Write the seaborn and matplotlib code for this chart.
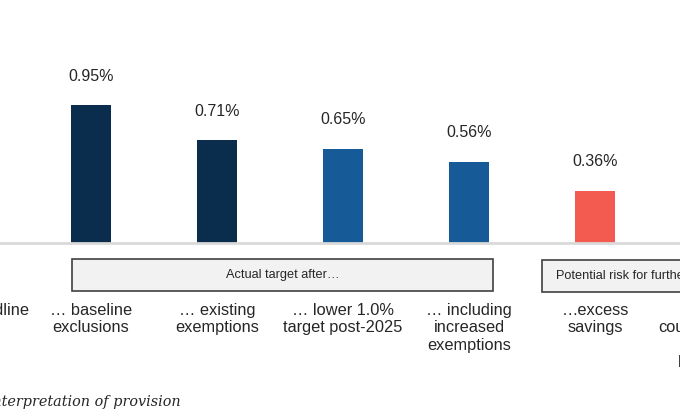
import matplotlib
matplotlib.use('Agg')
import matplotlib.pyplot as plt
import matplotlib.patches as mpatches
from matplotlib.transforms import blended_transform_factory
import seaborn as sns
import pandas as pd

# Categories (outer two are cut off by the crop of the original)
categories = ['Notional headline\ntarget',
              '… baseline\nexclusions',
              '… existing\nexemptions',
              '… lower 1.0%\ntarget post-2025',
              '… including\nincreased\nexemptions',
              '…excess\nsavings',
              '… using\ncountercyclicality\nfiscal\nbuffer funds']
# values in %, None = not visible in the picture
values = [None, 0.95, 0.71, 0.65, 0.56, 0.36, None]
bar_colors = ['#0B2D4D', '#0B2D4D', '#0B2D4D', '#165A97', '#165A97', '#F35B50', '#F35B50']

box_texts = ['Actual target after…', 'Potential risk for further erosion from…']

df = pd.DataFrame({'category': categories, 'value': values})
plotted = df.dropna()

sns.set_style('white')
plt.rcParams['font.family'] = ['Liberation Sans', 'DejaVu Sans']

fig = plt.figure(figsize=(6.8, 4.2), dpi=100)
# axes runs past both figure edges, the picture is a crop
step = 126
ax = fig.add_axes([(91 - 1.5 * step) / 680, 1 - 243 / 420, 7 * step / 680, 243 / 420])

palette = dict(zip(categories, bar_colors))
sns.barplot(data=plotted, x='category', y='value', hue='category',
            order=categories, hue_order=list(plotted['category']),
            palette=palette, width=0.32, legend=False, ax=ax,
            saturation=1, edgecolor='none')

for cont in ax.containers:
    ax.bar_label(cont, labels=[f'{v:.2f}%' for v in cont.datavalues],
                 padding=15.5, fontsize=11.5, color='#262626')

ax.set_xlim(-0.5, 6.5)
ax.set_ylim(0, 243 / 145)
ax.set_yticks([])
ax.set_xlabel('')
ax.set_ylabel('')
for s in ['top', 'left', 'right']:
    ax.spines[s].set_visible(False)
ax.spines['bottom'].set_color('#d9d9d9')
ax.spines['bottom'].set_linewidth(2)
ax.tick_params(axis='x', length=0, pad=43, labelsize=11.8, labelcolor='#262626')
for lab in ax.get_xticklabels():
    lab.set_linespacing(1.2)

# group boxes under the axis
trans = blended_transform_factory(ax.transData, fig.transFigure)
y0, y1 = 1 - 291 / 420, 1 - 259 / 420
ax.add_patch(mpatches.Rectangle((0.85, y0), 4.19 - 0.85, y1 - y0, transform=trans,
                                facecolor='#f2f2f2', edgecolor='#404040', lw=1.2, clip_on=False))
ax.text((0.85 + 4.19) / 2, (y0 + y1) / 2, box_texts[0], transform=trans,
        ha='center', va='center', fontsize=9.2, color='#262626')
y0b, y1b = 1 - 292 / 420, 1 - 260 / 420
ax.add_patch(mpatches.Rectangle((4.58, y0b), 2.3, y1b - y0b, transform=trans,
                                facecolor='#f2f2f2', edgecolor='#404040', lw=1.2, clip_on=False))
ax.text(4.58 + 0.11, (y0b + y1b) / 2, box_texts[1], transform=trans,
        ha='left', va='center', fontsize=9.2, color='#262626')

fig.text(181 / 680, 1 - 406 / 420, 'Based on legal interpretation of provision',
         ha='right', va='baseline', fontsize=10.35, style='italic',
         family='DejaVu Serif', color='#262626')

fig.savefig('out.png', dpi=100)
